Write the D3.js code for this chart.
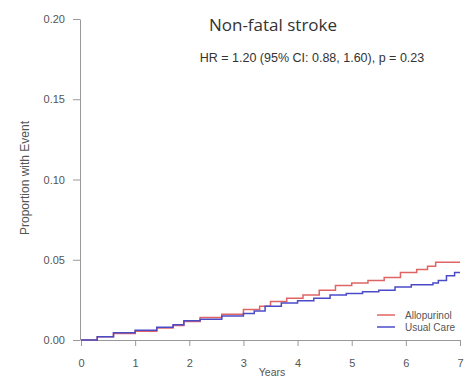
<!DOCTYPE html>
<html>
<head>
<meta charset="utf-8">
<script src="https://cdn.jsdelivr.net/npm/d3@7"></script>
<style>
  html, body { margin: 0; padding: 0; background: #fff; }
  svg { display: block; }
</style>
</head>
<body>
<svg id="chart" width="466" height="378"></svg>
<script>
// Cumulative incidence of non-fatal stroke (step curves)
const allopurinolYears = [0, 0.3, 0.6, 1.0, 1.4, 1.7, 1.9, 2.2, 2.6, 3.0, 3.3, 3.5, 3.8, 4.1, 4.4, 4.7, 5.0, 5.3, 5.6, 5.9, 6.2, 6.4, 6.55, 7.0];
const allopurinolProp  = [0, 0.002, 0.004, 0.0055, 0.0075, 0.009, 0.0115, 0.014, 0.016, 0.019, 0.021, 0.024, 0.026, 0.028, 0.031, 0.034, 0.0355, 0.037, 0.039, 0.042, 0.044, 0.046, 0.0485, 0.0485];

const usualCareYears = [0, 0.3, 0.6, 1.0, 1.4, 1.7, 1.9, 2.2, 2.6, 3.0, 3.2, 3.4, 3.7, 4.0, 4.3, 4.6, 4.9, 5.2, 5.5, 5.8, 6.1, 6.5, 6.6, 6.75, 6.9, 7.0];
const usualCareProp  = [0, 0.002, 0.0045, 0.006, 0.008, 0.0095, 0.012, 0.013, 0.015, 0.0165, 0.018, 0.021, 0.023, 0.0245, 0.026, 0.028, 0.029, 0.030, 0.031, 0.033, 0.0345, 0.0355, 0.037, 0.040, 0.042, 0.042];

const xTicks = [0, 1, 2, 3, 4, 5, 6, 7];
const yTicks = [0, 0.05, 0.10, 0.15, 0.20];

const seriesNames = ["Allopurinol", "Usual Care"];
const seriesColors = ["#e06464", "#4b4bc8"];

const titleText = "Non-fatal stroke";
const subtitleText = "HR = 1.20 (95% CI: 0.88, 1.60), p = 0.23";

const svg = d3.select("#chart");
const textColor = "#555";
const axisColor = "#999";
const fontFamily = "'Liberation Sans', Arial, sans-serif";

const x = d3.scaleLinear().domain([0, 7]).range([81, 460]);
const y = d3.scaleLinear().domain([0, 0.20]).range([340, 19]);

// Y axis
const yAxis = svg.append("g")
  .attr("transform", "translate(80,0)")
  .call(d3.axisLeft(y).tickValues(yTicks).tickFormat(d3.format(".2f")).tickSize(7).tickSizeOuter(0).tickPadding(8));
yAxis.select(".domain").attr("stroke", axisColor);
yAxis.selectAll(".tick line").attr("stroke", axisColor);
yAxis.selectAll(".tick text").attr("fill", textColor).attr("font-size", 11).attr("font-family", fontFamily);

// X axis
const xAxis = svg.append("g")
  .attr("transform", "translate(0,340)")
  .call(d3.axisBottom(x).tickValues(xTicks).tickFormat(d3.format("d")).tickSize(6).tickSizeOuter(0).tickPadding(13));
xAxis.select(".domain").attr("stroke", axisColor);
xAxis.selectAll(".tick line").attr("stroke", axisColor);
xAxis.selectAll(".tick text").attr("fill", textColor).attr("font-size", 11).attr("font-family", fontFamily);

// Axis titles
svg.append("text")
  .attr("x", 272).attr("y", 376)
  .attr("text-anchor", "middle")
  .attr("fill", textColor).attr("font-size", 10.5).attr("font-family", fontFamily)
  .text("Years");

svg.append("text")
  .attr("transform", "translate(29,178) rotate(-90)")
  .attr("text-anchor", "middle")
  .attr("fill", textColor).attr("font-size", 12).attr("font-family", fontFamily)
  .text("Proportion with Event");

// Titles
svg.append("text")
  .attr("x", 273).attr("y", 31)
  .attr("text-anchor", "middle")
  .attr("fill", "#333").attr("font-size", 17).attr("font-family", "'Open Sans', 'Noto Sans', sans-serif")
  .text(titleText);

svg.append("text")
  .attr("x", 312).attr("y", 62)
  .attr("text-anchor", "middle")
  .attr("fill", "#333").attr("font-size", 12.5).attr("font-family", fontFamily)
  .text(subtitleText);

// Step curves
const line = d3.line()
  .x(d => x(d[0]))
  .y(d => y(d[1]))
  .curve(d3.curveStepAfter);

const series = [
  d3.zip(allopurinolYears, allopurinolProp),
  d3.zip(usualCareYears, usualCareProp)
];

svg.append("g").selectAll("path")
  .data(series)
  .join("path")
  .attr("d", line)
  .attr("fill", "none")
  .attr("stroke", (d, i) => seriesColors[i])
  .attr("stroke-width", 1.5);

// Legend
const legend = svg.append("g");
seriesNames.forEach((name, i) => {
  const ly = 315 + i * 12;
  legend.append("line")
    .attr("x1", 377).attr("x2", 395).attr("y1", ly).attr("y2", ly)
    .attr("stroke", seriesColors[i]).attr("stroke-width", 1.5);
  legend.append("text")
    .attr("x", 405).attr("y", ly + 3.5)
    .attr("fill", textColor).attr("font-size", 10).attr("font-family", fontFamily)
    .text(name);
});
</script>
</body>
</html>
